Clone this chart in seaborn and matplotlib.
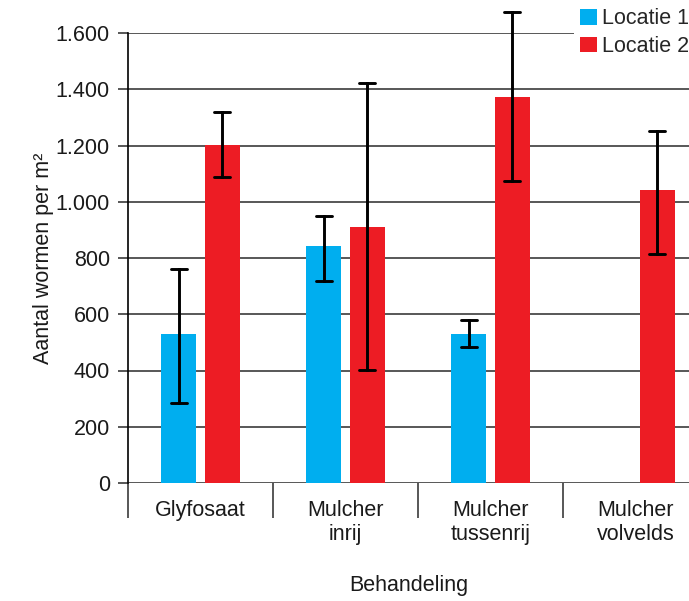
import numpy as np
import pandas as pd
import seaborn as sns
import matplotlib.pyplot as plt
from matplotlib.ticker import FuncFormatter, FixedLocator

treatments = ["Glyfosaat", "Mulcher\ninrij", "Mulcher\ntussenrij", "Mulcher\nvolvelds"]
locations = ["Locatie 1", "Locatie 2"]

# bar height plus lower / upper end of the error bar
loc1 = [530, 843, 530, np.nan]
loc1_lo = [284, 718, 484, np.nan]
loc1_hi = [760, 949, 580, np.nan]
loc2 = [1202, 910, 1372, 1042]
loc2_lo = [1088, 402, 1074, 814]
loc2_hi = [1320, 1422, 1675, 1252]

rows = []
for loc, vals in [("Locatie 1", (loc1, loc1_lo, loc1_hi)),
                  ("Locatie 2", (loc2, loc2_lo, loc2_hi))]:
    for i, t in enumerate(treatments):
        for v in vals:
            rows.append({"Behandeling": t, "Locatie": loc, "Aantal": v[i]})
data = pd.DataFrame(rows).dropna()

sns.set_theme(style="white")
plt.rcParams['font.family'] = ['Liberation Sans', 'DejaVu Sans']
fs = 15.5

fig = plt.figure(figsize=(6.89, 6.01), dpi=100)
ax = fig.add_axes([128 / 689, 118 / 601, 1 - 128 / 689, 450 / 601])

sns.barplot(data, x="Behandeling", y="Aantal", hue="Locatie",
            order=treatments, hue_order=locations,
            palette={"Locatie 1": "#00AEEF", "Locatie 2": "#ED1C24"},
            saturation=1, estimator="median",
            errorbar=lambda v: (v.min(), v.max()),
            width=0.6, gap=0.2, capsize=0.22, linewidth=0,
            err_kws={"color": "black", "linewidth": 2.1, "clip_on": False},
            ax=ax)

ax.set_xlim(-0.5, 3.37)
ax.set_ylim(0, 1600)
ax.yaxis.set_major_locator(FixedLocator(np.arange(0, 1601, 200)))
ax.yaxis.set_major_formatter(FuncFormatter(lambda v, p: f"{v:,.0f}".replace(",", ".")))
ax.grid(axis="y", color="#4a4a4a", linewidth=1.3)
ax.set_axisbelow(True)

for s in ["top", "right", "bottom"]:
    ax.spines[s].set_visible(False)
ax.spines["left"].set_color("black")
ax.spines["left"].set_linewidth(1.2)

ax.tick_params(axis="y", direction="out", length=7, width=1.3, color="#4a4a4a",
               left=True, labelsize=fs, pad=6, labelcolor="#1a1a1a")
ax.tick_params(axis="x", which="major", length=0, pad=12, labelsize=fs,
               labelcolor="#1a1a1a")
ax.set_xticks(np.arange(-0.5, 3, 1), minor=True)
ax.tick_params(axis="x", which="minor", direction="out", length=25, width=1.3,
               color="#4a4a4a", bottom=True)

ax.set_xlabel("Behandeling", fontsize=fs, labelpad=22, color="#1a1a1a")
ax.set_ylabel("Aantal wormen per m²", fontsize=fs, labelpad=1, color="#1a1a1a")

sns.move_legend(ax, "upper left", bbox_to_anchor=(574 / 689, 1 - 2 / 601),
                bbox_transform=fig.transFigure, title=None, frameon=True,
                fontsize=fs, handlelength=0.75, handleheight=0.75,
                handletextpad=0.25, borderpad=0.3, labelspacing=0.3,
                borderaxespad=0, fancybox=False)
leg = ax.get_legend()
leg.get_frame().set_facecolor("white")
leg.get_frame().set_edgecolor("none")
leg.get_frame().set_alpha(1)

fig.savefig("out.png", dpi=100)
